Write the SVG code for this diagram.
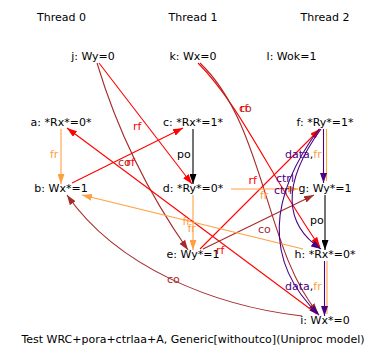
<svg xmlns="http://www.w3.org/2000/svg" width="387" height="361" viewBox="0 0 387 361">
<defs>
<style>
text{font-family:"DejaVu Sans","Liberation Sans",sans-serif;font-size:11px;fill:#000}
.n{text-anchor:middle}
.e{fill:none;stroke-width:1.1}
.rf{stroke:#ff0000}
.co{stroke:#a52a2a}
.fr{stroke:#ffa040}
.po{stroke:#000000}
.dp{stroke:#4b0082}
.lrf{fill:#ff0000}
.lco{fill:#a52a2a}
.lfr{fill:#ffa040}
.ldp{fill:#4b0082}
</style>
<marker id="m-rf" viewBox="0 0 10 7" refX="10" refY="3.5" markerWidth="10" markerHeight="7" markerUnits="userSpaceOnUse" orient="auto"><path d="M0,0L10,3.5L0,7z" fill="#ff0000"/></marker>
<marker id="m-co" viewBox="0 0 10 7" refX="10" refY="3.5" markerWidth="10" markerHeight="7" markerUnits="userSpaceOnUse" orient="auto"><path d="M0,0L10,3.5L0,7z" fill="#a52a2a"/></marker>
<marker id="m-fr" viewBox="0 0 10 7" refX="10" refY="3.5" markerWidth="10" markerHeight="7" markerUnits="userSpaceOnUse" orient="auto"><path d="M0,0L10,3.5L0,7z" fill="#ffa040"/></marker>
<marker id="m-po" viewBox="0 0 10 7" refX="10" refY="3.5" markerWidth="10" markerHeight="7" markerUnits="userSpaceOnUse" orient="auto"><path d="M0,0L10,3.5L0,7z" fill="#000000"/></marker>
<marker id="m-dp" viewBox="0 0 10 7" refX="10" refY="3.5" markerWidth="10" markerHeight="7" markerUnits="userSpaceOnUse" orient="auto"><path d="M0,0L10,3.5L0,7z" fill="#4b0082"/></marker>
</defs>
<rect x="0" y="0" width="387" height="361" fill="#ffffff"/>

<g id="threads">
<text class="n" x="61.5" y="21">Thread 0</text>
<text class="n" x="193" y="21">Thread 1</text>
<text class="n" x="325" y="21">Thread 2</text>
</g>

<g id="connectors">
<path id="e-a-b" class="e fr" d="M61,129L61,184" marker-end="url(#m-fr)"/>
<path id="e-c-d" class="e po" d="M193,129L193,184" marker-end="url(#m-po)"/>
<path id="e-d-e" class="e fr" d="M193,195L193,250" marker-end="url(#m-fr)"/>
<path id="e-f-g-fr" class="e fr" d="M326.5,129L326.5,181"/>
<path id="e-f-g" class="e dp" d="M323.5,129L323.5,183" marker-end="url(#m-dp)"/>
<path id="e-g-h" class="e po" d="M325,195L325,250" marker-end="url(#m-po)"/>
<path id="e-h-i-fr" class="e fr" d="M327,261L327,314"/>
<path id="e-h-i" class="e dp" d="M324.5,261L324.5,316" marker-end="url(#m-dp)"/>
<path id="e-j-d" class="e rf" d="M99,63L192,184" marker-end="url(#m-rf)"/>
<path id="e-j-e" class="e co" d="M97,63Q127,163 188,250" marker-end="url(#m-co)"/>
<path id="e-b-c" class="e rf" d="M72,183L183,128" marker-end="url(#m-rf)"/>
<path id="e-i-a" class="e rf" d="M317,314L67,128" marker-end="url(#m-rf)"/>
<path id="e-k-h" class="e rf" d="M198,63C240,105 270,175 320,247" marker-end="url(#m-rf)"/>
<path id="e-k-i" class="e co" d="M200,63C265,125 265,250 318,313" marker-end="url(#m-co)"/>
<path id="e-e-f" class="e rf" d="M200,249L320,129" marker-end="url(#m-rf)"/>
<path id="e-e-g" class="e co" d="M203,249L314,195" marker-end="url(#m-co)"/>
<path id="e-i-b" class="e co" d="M302,316C215,306 118,268 67,195" marker-end="url(#m-co)"/>
<path id="e-h-b" class="e fr" d="M303,249L82,195" marker-end="url(#m-fr)"/>
<path id="e-d-g" class="e fr" d="M231,189L298,189" marker-end="url(#m-fr)"/>
<path id="e-f-h" class="e dp" d="M321,129C280,185 285,225 321,249" marker-end="url(#m-dp)"/>
<path id="e-f-i" class="e dp" d="M319,129C270,195 262,260 319,315" marker-end="url(#m-dp)"/>

<text class="lfr" x="50" y="157.5">fr</text>
<text x="177" y="157.5">po</text>
<text class="lrf" x="133" y="130">rf</text>
<text class="lco" x="118" y="166">co</text>
<text class="lrf" x="126.5" y="166">rf</text>
<text class="lco" x="239" y="111.5">co</text>
<text class="lrf" x="240" y="111.5">rf</text>
<text class="lrf" x="248.5" y="184">rf</text>
<text class="lrf" x="216" y="254">rf</text>
<text class="lfr" x="182.5" y="224.5">fr</text>
<text class="lfr" x="187.5" y="231.5">fr</text>
<text class="lfr" x="260" y="198.5">fr</text>
<text class="lco" x="258" y="232.5">co</text>
<text class="lco" x="167" y="283">co</text>
<text class="ldp" x="276" y="181.5">ctrl</text>
<text class="ldp" x="274" y="193.5">ctrl</text>
<text x="285" y="158"><tspan class="ldp">data</tspan>,<tspan class="lfr">fr</tspan></text>
<text x="310" y="223.5">po</text>
<text x="285" y="290"><tspan class="ldp">data</tspan>,<tspan class="lfr">fr</tspan></text>
</g>

<g id="node-j"><text class="n" x="93" y="60">j: Wy=0</text></g>
<g id="node-k"><text class="n" x="193" y="60">k: Wx=0</text></g>
<g id="node-l"><text class="n" x="291.5" y="60">l: Wok=1</text></g>
<g id="node-a"><text class="n" x="61" y="126">a: *Rx*=0*</text></g>
<g id="node-c"><text class="n" x="193" y="126">c: *Rx*=1*</text></g>
<g id="node-f"><text class="n" x="325" y="126">f: *Ry*=1*</text></g>
<g id="node-b"><text class="n" x="61" y="192">b: Wx*=1</text></g>
<g id="node-d"><text class="n" x="193" y="192">d: *Ry*=0*</text></g>
<g id="node-g"><text class="n" x="325" y="192">g: Wy*=1</text></g>
<g id="node-e"><text class="n" x="193" y="258">e: Wy*=1</text></g>
<g id="node-h"><text class="n" x="325" y="258">h: *Rx*=0*</text></g>
<g id="node-i"><text class="n" x="325" y="324">i: Wx*=0</text></g>

<text class="n" x="193" y="342.5">Test WRC+pora+ctrlaa+A, Generic[withoutco](Uniproc model)</text>
</svg>
